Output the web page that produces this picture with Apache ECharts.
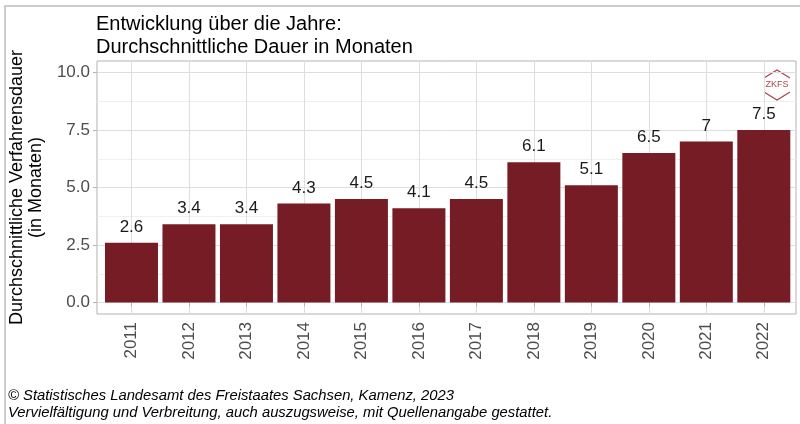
<!DOCTYPE html>
<html><head><meta charset="utf-8">
<script src="https://cdn.jsdelivr.net/npm/echarts@6/dist/echarts.min.js"></script>
<style>html,body{margin:0;padding:0;background:#fff}#c{width:800px;height:424px}</style>
</head><body><div id="c"></div>
<script>
const categories = ['2011','2012','2013','2014','2015','2016','2017','2018','2019','2020','2021','2022'];
const values = [2.6, 3.4, 3.4, 4.3, 4.5, 4.1, 4.5, 6.1, 5.1, 6.5, 7, 7.5];
const yTicks = [0, 2.5, 5, 7.5, 10];
const yMinorTicks = [1.25, 3.75, 6.25, 8.75];
const titleText = 'Entwicklung über die Jahre:\nDurchschnittliche Dauer in Monaten';
const yTitle = 'Durchschnittliche Verfahrensdauer\n(in Monaten)';
const footer = '© Statistisches Landesamt des Freistaates Sachsen, Kamenz, 2023\nVervielfältigung und Verbreitung, auch auszugsweise, mit Quellenangabe gestattet.';

const xPos = categories.map((c, i) => i + 1);
const FONT = '"Liberation Sans", Arial, sans-serif';
const chart = echarts.init(document.getElementById('c'), null, {renderer: 'canvas'});
chart.setOption({
  animation: false,
  textStyle: {fontFamily: FONT},
  title: {
    text: titleText, left: 91, top: 8,
    textStyle: {fontSize: 20, fontWeight: 'normal', color: '#000', lineHeight: 23, fontFamily: FONT}
  },
  grid: {left: 96, right: 4, top: 61, height: 253, show: true, borderColor: '#b3b3b3', borderWidth: 1, backgroundColor: 'transparent'},
  xAxis: {
    type: 'value', min: 0.4, max: 12.56,
    axisLine: {show: false},
    axisTick: {show: true, length: 4, lineStyle: {color: '#b3b3b3'}, customValues: xPos},
    axisLabel: {
      customValues: xPos, rotate: 90, fontSize: 17, color: '#4d4d4d', margin: 8,
      formatter: v => categories[Math.round(v) - 1] || ''
    },
    splitLine: {show: true, lineStyle: {color: '#dedede', width: 1}}
  },
  yAxis: [{
    type: 'value', min: -0.5, max: 10.5,
    name: yTitle, nameLocation: 'middle', nameGap: 47,
    nameTextStyle: {fontSize: 18, color: '#000', lineHeight: 19, fontFamily: FONT},
    axisLine: {show: false},
    axisTick: {show: true, length: 4, lineStyle: {color: '#b3b3b3'}, customValues: yTicks},
    axisLabel: {customValues: yTicks, fontSize: 17, color: '#4d4d4d', margin: 7, formatter: v => v.toFixed(1)},
    splitLine: {show: true, lineStyle: {color: '#dedede', width: 1}}
  }, {
    type: 'value', min: -0.5, max: 10.5, position: 'left',
    axisLine: {show: false},
    axisTick: {show: false, customValues: yMinorTicks},
    axisLabel: {show: false, customValues: yMinorTicks},
    splitLine: {show: true, lineStyle: {color: '#efefef', width: 1}}
  }],
  series: [{
    type: 'bar',
    data: xPos.map((x, i) => [x, values[i]]),
    barWidth: 53,
    clip: false,
    itemStyle: {color: '#761C24'},
    label: {show: true, position: 'top', distance: 7, fontSize: 17, color: '#1a1a1a', fontFamily: FONT,
      formatter: p => String(p.value[1])}
  }],
  graphic: [
    {type: 'polyline', shape: {points: [[5, 430], [5, 6], [805, 6]]}, style: {stroke: '#bdbdbd', lineWidth: 1.5, fill: null}},
    {type: 'text', left: 8, top: 388, style: {text: footer, font: 'italic 14.8px ' + FONT, fill: '#000', lineHeight: 16.5}},
    {type: 'polyline', shape: {points: [[764, 78], [777, 70], [790, 78]]}, style: {stroke: '#a8454c', lineWidth: 1.2, fill: null}},
    {type: 'polyline', shape: {points: [[764, 92], [777, 100], [790, 92]]}, style: {stroke: '#a8454c', lineWidth: 1.2, fill: null}},
    {type: 'text', x: 777, y: 85, style: {text: 'ZKFS', font: '9px ' + FONT, fill: '#a8454c', textAlign: 'center', textVerticalAlign: 'middle'}}
  ]
});
</script></body></html>
